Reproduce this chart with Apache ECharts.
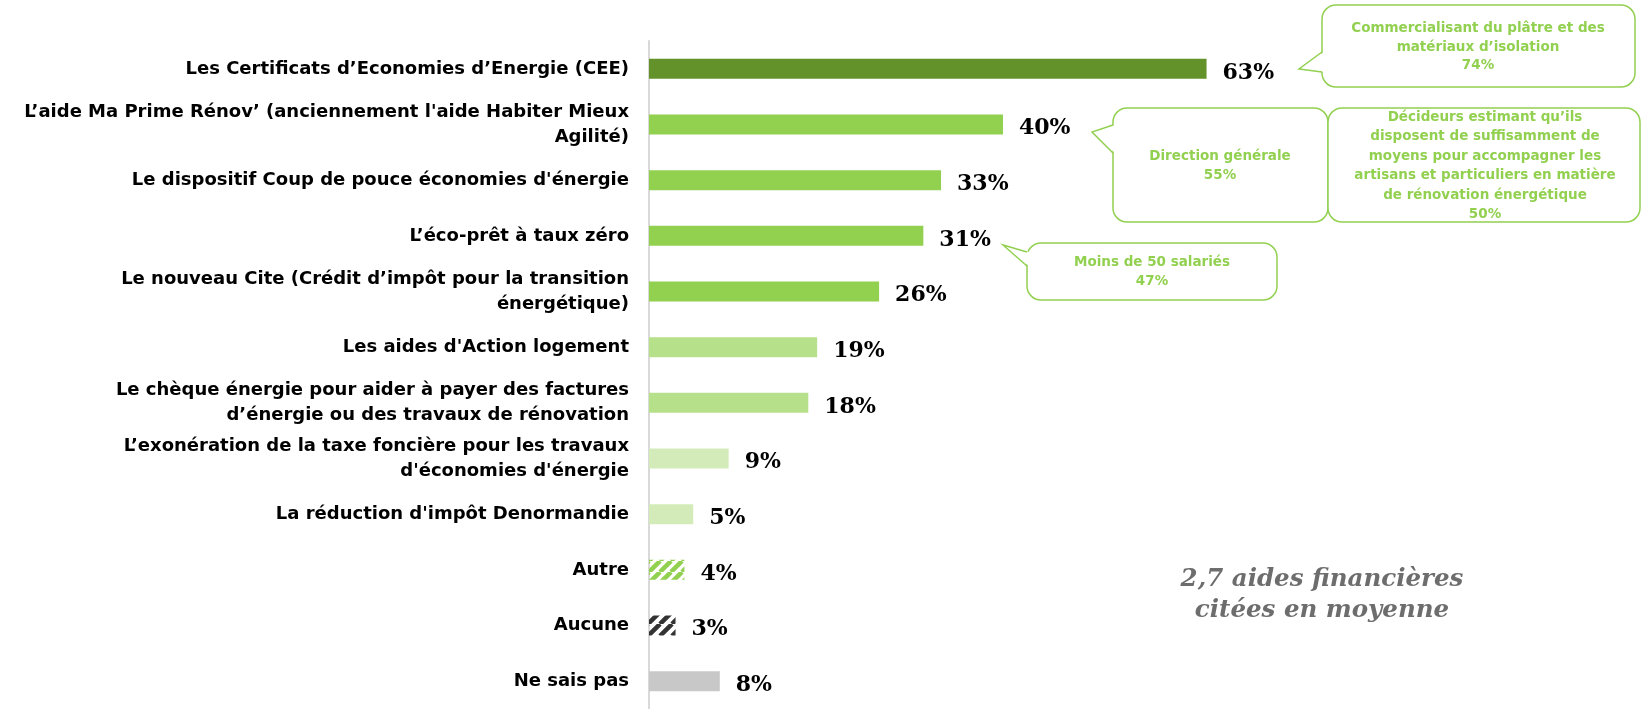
<!DOCTYPE html>
<html>
<head>
<meta charset="utf-8">
<script src="https://cdn.jsdelivr.net/npm/echarts@6/dist/echarts.min.js"></script>
<style>
  html, body { margin: 0; padding: 0; background: #fff; }
  #chart { width: 1643px; height: 709px; }
</style>
</head>
<body>
<div id="chart"></div>
<script>
// chart values
const categories = [
  "Les Certificats d’Economies d’Energie (CEE)",
  "L’aide Ma Prime Rénov’ (anciennement l'aide Habiter Mieux\nAgilité)",
  "Le dispositif Coup de pouce économies d'énergie",
  "L’éco-prêt à taux zéro",
  "Le nouveau Cite (Crédit d’impôt pour la transition\nénergétique)",
  "Les aides d'Action logement",
  "Le chèque énergie pour aider à payer des factures\nd’énergie ou des travaux de rénovation",
  "L’exonération de la taxe foncière pour les travaux\nd'économies d'énergie",
  "La réduction d'impôt Denormandie",
  "Autre",
  "Aucune",
  "Ne sais pas"
];
const values = [63, 40, 33, 31, 26, 19, 18, 9, 5, 4, 3, 8];

const calloutTexts = [
  "Commercialisant du plâtre et des\nmatériaux d’isolation\n74%",
  "Direction générale\n55%",
  "Décideurs estimant qu’ils\ndisposent de suffisamment de\nmoyens pour accompagner les\nartisans et particuliers en matière\nde rénovation énergétique\n50%",
  "Moins de 50 salariés\n47%"
];
const summaryText = "2,7 aides financières\ncitées en moyenne";

// hatch fills
function stripes(color, size, width) {
  let c = document.createElement('canvas');
  c.width = size; c.height = size;
  let ctx = c.getContext('2d');
  ctx.strokeStyle = color;
  ctx.lineWidth = width;
  ctx.beginPath();
  [-1, 0, 1].forEach(k => {
    ctx.moveTo(k * size, size);
    ctx.lineTo(k * size + size, 0);
  });
  ctx.stroke();
  return { image: c, repeat: 'repeat' };
}

const GREEN = '#92d050';
const barColors = [
  '#64922a', GREEN, GREEN, GREEN, GREEN,
  '#b6e08a', '#b6e08a', '#d3ebb9', '#d3ebb9',
  stripes(GREEN, 11, 4.5), stripes('#333333', 12, 4.5), '#c8c8c8'
];

const seriesData = values.map((v, i) => ({ value: v, itemStyle: { color: barColors[i] } }));

// callout boxes: rect + optional pointer
function callout(box, pointer, text, center, lineHeight) {
  let els = [{
    type: 'rect',
    shape: { x: box[0], y: box[1], width: box[2], height: box[3], r: 14 },
    style: { fill: '#fff', stroke: GREEN, lineWidth: 1.5 }
  }];
  if (pointer) {
    let [b1, tip, b2] = pointer;
    els.push({
      type: 'polygon',
      shape: { points: [[b1[0] + 2, b1[1]], tip, [b2[0] + 2, b2[1]]] },
      style: { fill: '#fff' }
    });
    els.push({
      type: 'polyline',
      shape: { points: [b1, tip, b2] },
      style: { stroke: GREEN, lineWidth: 1.5, fill: null }
    });
  }
  els.push({
    type: 'text',
    x: center[0], y: center[1],
    style: {
      text: text, fill: GREEN, font: 'bold 13.5px "DejaVu Sans"',
      align: 'center', verticalAlign: 'middle', lineHeight: lineHeight
    }
  });
  return els;
}

var myChart = echarts.init(document.getElementById('chart'), null, { renderer: 'canvas' });

myChart.setOption({
  animation: false,
  grid: { left: 649, top: 41, width: 885, height: 672 },
  xAxis: { type: 'value', min: 0, max: 100, show: false },
  yAxis: {
    type: 'category',
    inverse: true,
    data: categories,
    axisLine: { show: true, lineStyle: { color: '#d9d9d9', width: 2 } },
    axisTick: { show: false },
    axisLabel: {
      color: '#000',
      fontWeight: 'bold',
      fontSize: 18,
      fontFamily: 'DejaVu Sans',
      lineHeight: 25,
      margin: 20,
      align: 'right'
    }
  },
  series: [{
    type: 'bar',
    data: seriesData,
    barWidth: 20,
    label: {
      show: true,
      position: 'right',
      distance: 16,
      offset: [0, 4],
      formatter: '{c}%',
      color: '#000',
      fontSize: 22,
      fontWeight: 'bold',
      fontFamily: 'DejaVu Serif'
    }
  }],
  graphic: [
    ...callout([1322, 5, 313, 82], [[1322, 52], [1299, 69], [1322, 72]], calloutTexts[0], [1478, 47], 18.5),
    ...callout([1113, 108, 215, 114], [[1113, 125], [1092, 132], [1113, 153]], calloutTexts[1], [1220, 166], 18.5),
    ...callout([1328, 108, 312, 114], null, calloutTexts[2], [1485, 166], 19.5),
    ...callout([1027, 243, 250, 57], [[1027, 252], [1003, 245], [1027, 266]], calloutTexts[3], [1152, 272], 18.5),
    {
      type: 'text',
      x: 1322, y: 595,
      style: {
        text: summaryText, fill: '#6d6d6d',
        font: 'italic bold 24.5px "DejaVu Serif"',
        align: 'center', verticalAlign: 'middle', lineHeight: 31
      }
    }
  ]
});
</script>
</body>
</html>
